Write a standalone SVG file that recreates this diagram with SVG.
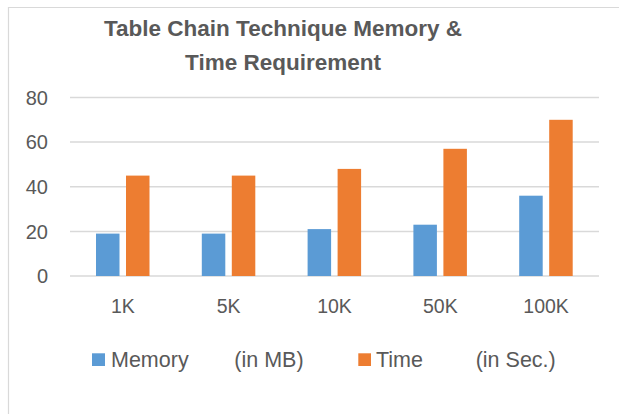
<svg xmlns="http://www.w3.org/2000/svg" width="619" height="414" viewBox="0 0 619 414">
  <style>
    text { font-family: "Liberation Sans", Arial, sans-serif; fill: #595959; }
    .title { font-size: 22.5px; font-weight: bold; text-anchor: middle; }
    .ytick { font-size: 20px; text-anchor: end; }
    .xtick { font-size: 19.5px; text-anchor: middle; }
    .legend { font-size: 21.5px; }
    .grid { stroke: #d9d9d9; stroke-width: 1.5; }
    .mem { fill: #5b9bd5; }
    .time { fill: #ed7d31; }
  </style>
  <rect width="619" height="414" fill="#ffffff"/>
  <!-- chart area frame (extends past the right and bottom edges) -->
  <path d="M8.5 430 V7.5 H640" fill="none" stroke="#d9d9d9" stroke-width="1.2"/>

  <!-- title -->
  <g id="title">
    <text class="title" x="283" y="35.5">Table Chain Technique Memory &amp;</text>
    <text class="title" x="283" y="70">Time Requirement</text>
  </g>

  <!-- value axis: gridlines and labels -->
  <g id="value-axis">
    <line class="grid" x1="70" y1="97.5" x2="599" y2="97.5"/>
    <line class="grid" x1="70" y1="142.1" x2="599" y2="142.1"/>
    <line class="grid" x1="70" y1="186.8" x2="599" y2="186.8"/>
    <line class="grid" x1="70" y1="231.4" x2="599" y2="231.4"/>
    <line class="grid" x1="70" y1="276" x2="599" y2="276"/>
    <text class="ytick" x="48" y="104.6">80</text>
    <text class="ytick" x="48" y="149.2">60</text>
    <text class="ytick" x="48" y="193.9">40</text>
    <text class="ytick" x="48" y="238.5">20</text>
    <text class="ytick" x="48" y="283.1">0</text>
  </g>

  <!-- series: Memory (in MB) -->
  <g id="series-memory">
    <rect class="mem" x="96" y="233.6" width="23.5" height="42.4"/>
    <rect class="mem" x="201.8" y="233.6" width="23.5" height="42.4"/>
    <rect class="mem" x="307.6" y="229.1" width="23.5" height="46.9"/>
    <rect class="mem" x="413.4" y="224.7" width="23.5" height="51.3"/>
    <rect class="mem" x="519.2" y="195.7" width="23.5" height="80.3"/>
  </g>

  <!-- series: Time (in Sec.) -->
  <g id="series-time">
    <rect class="time" x="126" y="175.6" width="23.5" height="100.4"/>
    <rect class="time" x="231.8" y="175.6" width="23.5" height="100.4"/>
    <rect class="time" x="337.6" y="168.9" width="23.5" height="107.1"/>
    <rect class="time" x="443.4" y="148.8" width="23.5" height="127.2"/>
    <rect class="time" x="549.2" y="119.8" width="23.5" height="156.2"/>
  </g>

  <!-- category axis labels -->
  <g id="category-axis">
    <text class="xtick" x="122.9" y="313.3">1K</text>
    <text class="xtick" x="228.7" y="313.3">5K</text>
    <text class="xtick" x="334.5" y="313.3">10K</text>
    <text class="xtick" x="440.3" y="313.3">50K</text>
    <text class="xtick" x="546.1" y="313.3">100K</text>
  </g>

  <!-- legend -->
  <g id="legend">
    <rect class="mem" x="92" y="353.3" width="13" height="12.7"/>
    <text class="legend" x="111" y="366.5">Memory</text>
    <text class="legend" x="234.3" y="366.5">(in MB)</text>
    <rect class="time" x="358.3" y="353.3" width="12.7" height="12.7"/>
    <text class="legend" x="376" y="366.5">Time</text>
    <text class="legend" x="475.7" y="366.5">(in Sec.)</text>
  </g>
</svg>
